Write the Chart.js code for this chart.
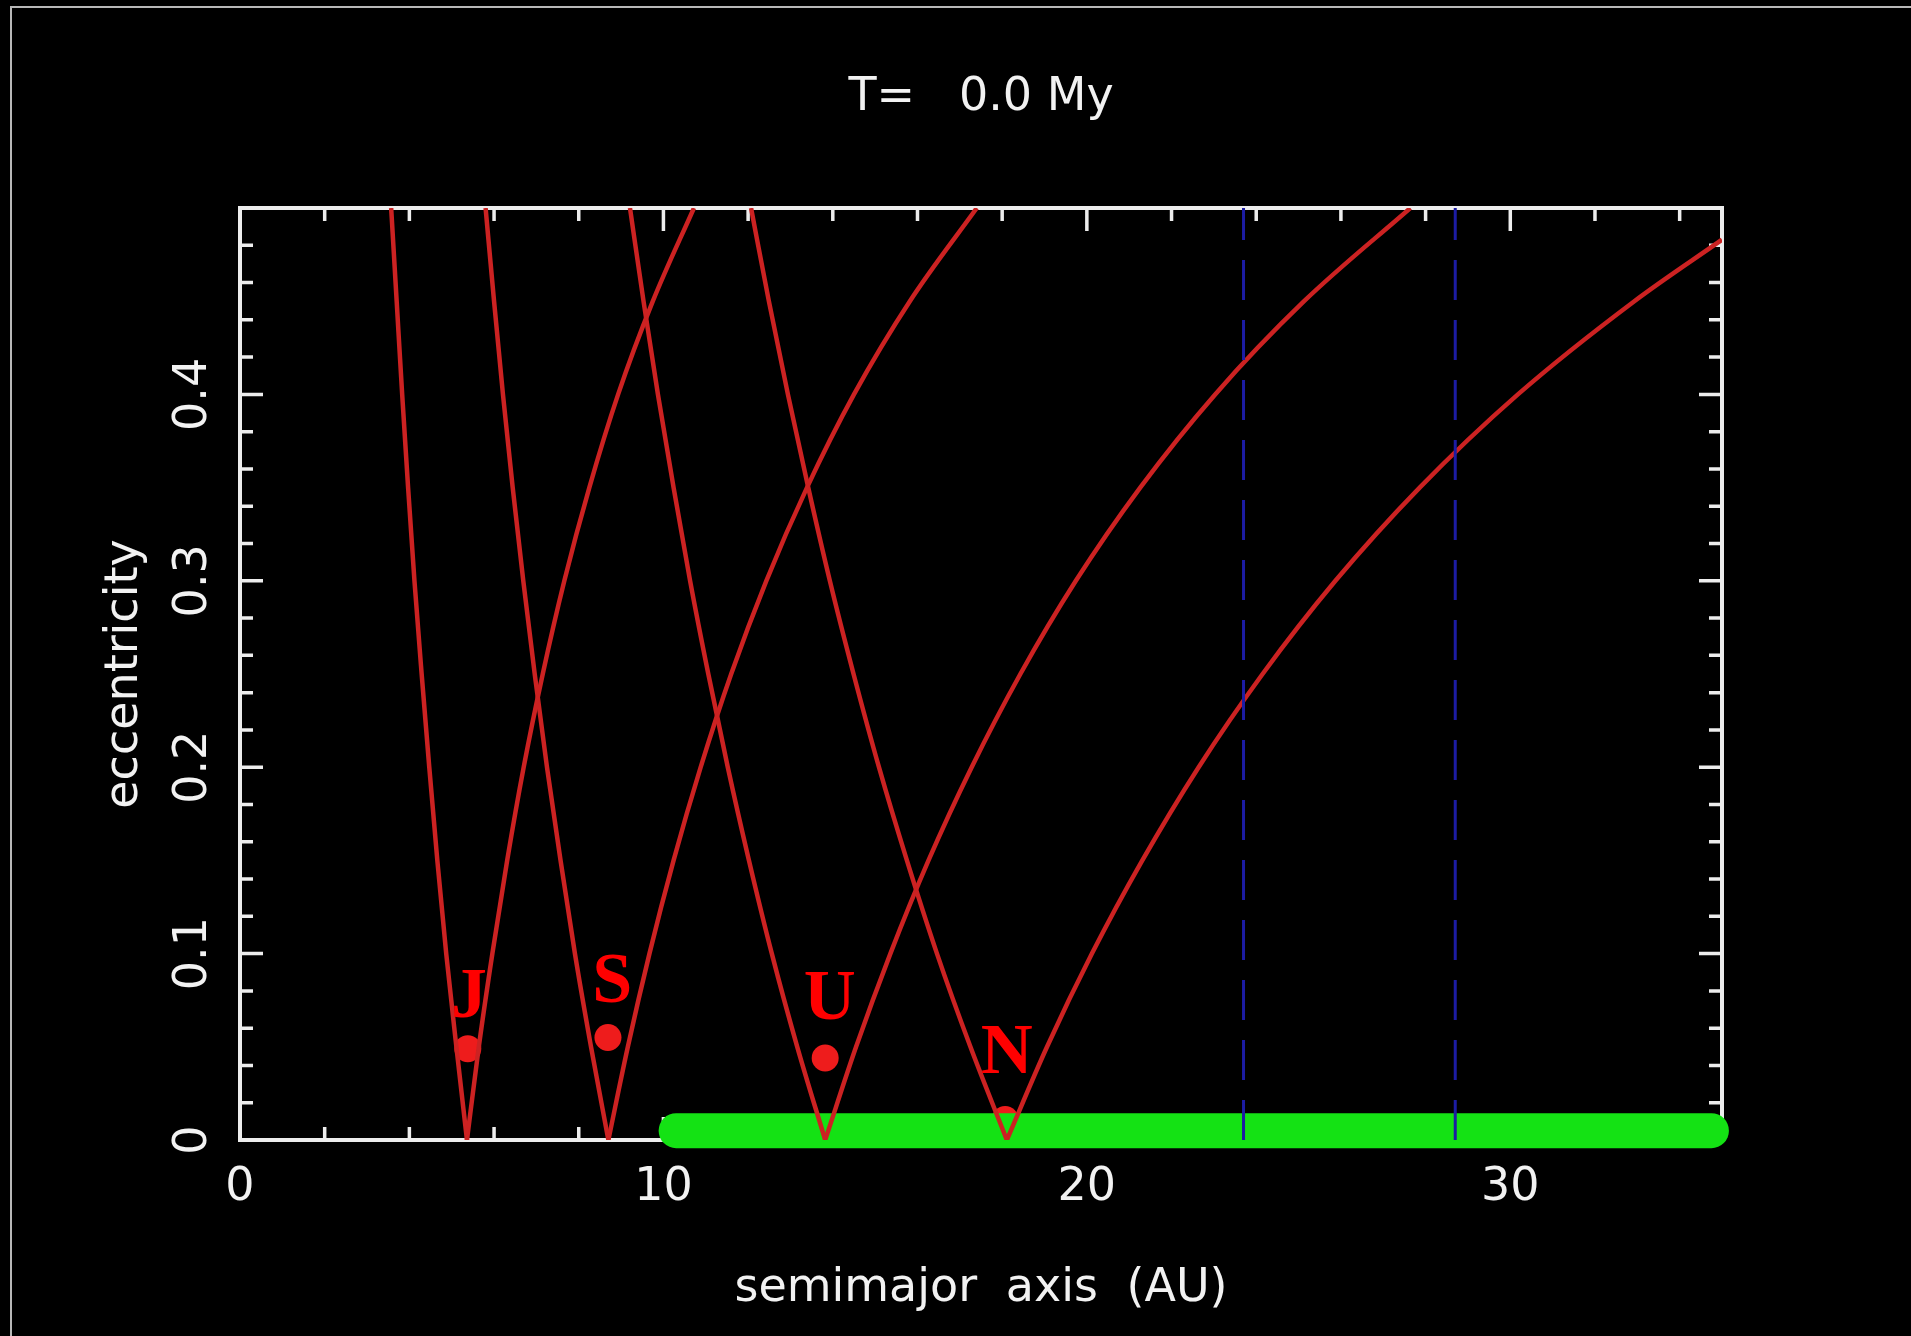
<!DOCTYPE html>
<html>
<head>
<meta charset="utf-8">
<script src="https://cdn.jsdelivr.net/npm/chart.js@4/dist/chart.umd.min.js"></script>
<style>
  html, body { margin: 0; padding: 0; background: #000; overflow: hidden; }
  canvas { display: block; }
</style>
</head>
<body>
<canvas id="ecc" width="1911" height="1336"></canvas>
<script>
// eccentricity levels along each branch
const innerEcc = [0.5, 0.45, 0.4, 0.35, 0.3, 0.25, 0.2, 0.15, 0.1, 0.05, 0];
const outerEcc = [0, 0.05, 0.1, 0.15, 0.2, 0.25, 0.3, 0.35, 0.4, 0.45, 0.5];
const neptuneOuterEcc = [0, 0.05, 0.1, 0.15, 0.2, 0.25, 0.3, 0.35, 0.4, 0.45, 0.483];

// semimajor axis (AU) of the crossing curves, left and right branch of each V
const jupiterInner = [3.57, 3.70, 3.83, 3.97, 4.12, 4.29, 4.47, 4.66, 4.87, 5.11, 5.36];
const jupiterOuter = [5.36, 5.64, 5.96, 6.31, 6.70, 7.15, 7.66, 8.25, 8.93, 9.75, 10.72];
const saturnInner = [5.80, 6.00, 6.21, 6.44, 6.69, 6.96, 7.25, 7.57, 7.91, 8.29, 8.70];
const saturnOuter = [8.70, 9.16, 9.67, 10.24, 10.88, 11.60, 12.43, 13.39, 14.50, 15.82, 17.40];
const uranusInner = [9.21, 9.53, 9.87, 10.24, 10.63, 11.06, 11.52, 12.02, 12.56, 13.16, 13.82];
const uranusOuter = [13.82, 14.55, 15.36, 16.26, 17.28, 18.43, 19.74, 21.26, 23.03, 25.13, 27.64];
const neptuneInner = [12.07, 12.49, 12.94, 13.42, 13.93, 14.49, 15.09, 15.75, 16.46, 17.25, 18.11];
const neptuneOuter = [18.11, 19.06, 20.12, 21.31, 22.64, 24.15, 25.87, 27.86, 30.18, 32.93, 35.0];

// planets
const planetNames = ["J", "S", "U", "N"];
const planetA = [5.38, 8.69, 13.82, 18.07];
const planetE = [0.049, 0.055, 0.044, 0.011];
const labelA = [5.41, 8.79, 13.93, 18.11];
const labelE = [0.066, 0.074, 0.065, 0.036];

// planetesimal disk and the two dashed markers
const diskA = [10.3, 34.75];
const diskE = [0.005, 0.005];
const markerA = [23.7, 28.7];

// axis ticks
const xMajorTicks = [0, 10, 20, 30];
const xMinorTicks = [2, 4, 6, 8, 12, 14, 16, 18, 22, 24, 26, 28, 32, 34];
const yMajorTicks = [0, 0.1, 0.2, 0.3, 0.4];
const yMinorTicks = [0.02, 0.04, 0.06, 0.08, 0.12, 0.14, 0.16, 0.18, 0.22, 0.24,
  0.26, 0.28, 0.32, 0.34, 0.36, 0.38, 0.42, 0.44, 0.46, 0.48];

const titleText = "T=   0.0 My";
const xTitle = "semimajor axis (AU)";
const yTitle = "eccentricity";

const curveColor = "#cc2222";
const textFont = '"DejaVu Sans", sans-serif';

function punten(xs, ys) {
  return xs.map((v, i) => ({ x: v, y: ys[i] }));
}

function rodeLijn(xs, ys) {
  return {
    type: "line",
    data: punten(xs, ys),
    borderColor: curveColor,
    borderWidth: 4.5,
    pointRadius: 0,
    cubicInterpolationMode: "monotone",
    order: 3,
  };
}

// frame with inward ticks on all four sides
const kader = {
  id: "kader",
  beforeDraw(chart) {
    const { ctx, width, height } = chart;
    ctx.save();
    ctx.fillStyle = "#000";
    ctx.fillRect(0, 0, width, height);
    ctx.strokeStyle = "#b8b8b8";
    ctx.lineWidth = 2;
    ctx.beginPath();
    ctx.moveTo(11, height);
    ctx.lineTo(11, 7);
    ctx.lineTo(width, 7);
    ctx.stroke();
    ctx.restore();
  },
  beforeDatasetsDraw(chart) {
    const { ctx, chartArea: a, scales } = chart;
    const x = scales.x, y = scales.y;
    ctx.save();
    ctx.strokeStyle = "#ededed";
    ctx.lineWidth = 4;
    ctx.strokeRect(a.left, a.top, a.right - a.left, a.bottom - a.top);
    ctx.lineWidth = 3.5;
    ctx.beginPath();
    const xTick = (v, len) => {
      const px = x.getPixelForValue(v);
      ctx.moveTo(px, a.bottom); ctx.lineTo(px, a.bottom - len);
      ctx.moveTo(px, a.top); ctx.lineTo(px, a.top + len);
    };
    const yTick = (v, len) => {
      const py = y.getPixelForValue(v);
      ctx.moveTo(a.left, py); ctx.lineTo(a.left + len, py);
      ctx.moveTo(a.right, py); ctx.lineTo(a.right - len, py);
    };
    xMajorTicks.forEach((v) => xTick(v, 23));
    xMinorTicks.forEach((v) => xTick(v, 13));
    yMajorTicks.forEach((v) => yTick(v, 23));
    yMinorTicks.forEach((v) => yTick(v, 13));
    ctx.stroke();
    ctx.restore();
  },
  afterDatasetsDraw(chart) {
    const { ctx, scales } = chart;
    ctx.save();
    ctx.fillStyle = "#ff0000";
    ctx.font = 'bold 72px "Liberation Serif", serif';
    ctx.textAlign = "center";
    ctx.textBaseline = "alphabetic";
    planetNames.forEach((naam, i) => {
      ctx.fillText(naam, scales.x.getPixelForValue(labelA[i]), scales.y.getPixelForValue(labelE[i]));
    });
    ctx.restore();
  },
  afterDraw(chart) {
    const { ctx, chartArea: a, scales } = chart;
    const midden = (a.left + a.right) / 2;
    ctx.save();
    ctx.fillStyle = "#f2f2f2";
    ctx.font = "46px " + textFont;
    ctx.textAlign = "center";
    ctx.textBaseline = "alphabetic";
    ctx.fillText(titleText, midden, 110);
    xMajorTicks.forEach((v) => {
      ctx.fillText(String(v), scales.x.getPixelForValue(v), 1200);
    });
    // vertical labels on the left
    yMajorTicks.forEach((v) => {
      ctx.save();
      ctx.translate(206, scales.y.getPixelForValue(v));
      ctx.rotate(-Math.PI / 2);
      ctx.fillText(v === 0 ? "0" : v.toFixed(1), 0, 0);
      ctx.restore();
    });
    ctx.save();
    ctx.translate(137, (a.top + a.bottom) / 2);
    ctx.rotate(-Math.PI / 2);
    ctx.fillText(yTitle, 0, 0);
    ctx.restore();
    ctx.wordSpacing = "14px";
    ctx.fillText(xTitle, midden, 1301);
    ctx.restore();
  },
};

const datasets = [
  ...markerA.map((m) => ({
    type: "line",
    data: punten([m, m], [0, 0.5]),
    borderColor: "#1c1ca4",
    borderWidth: 3,
    borderDash: [40, 20],
    pointRadius: 0,
    order: 2,
  })),
  rodeLijn(jupiterInner, innerEcc),
  rodeLijn(jupiterOuter, outerEcc),
  rodeLijn(saturnInner, innerEcc),
  rodeLijn(saturnOuter, outerEcc),
  rodeLijn(uranusInner, innerEcc),
  rodeLijn(uranusOuter, outerEcc),
  rodeLijn(neptuneInner, innerEcc),
  rodeLijn(neptuneOuter, neptuneOuterEcc),
  {
    type: "line",
    data: punten(diskA, diskE),
    borderColor: "#14e214",
    borderWidth: 35,
    borderCapStyle: "round",
    pointRadius: 0,
    clip: false,
    order: 4,
  },
  {
    type: "scatter",
    data: punten(planetA, planetE),
    backgroundColor: "#ee1c1c",
    borderWidth: 0,
    pointRadius: 13.5,
    order: 5,
  },
];

new Chart(document.getElementById("ecc"), {
  type: "line",
  data: { datasets },
  options: {
    responsive: false,
    animation: false,
    layout: { padding: { left: 240, right: 189, top: 208, bottom: 196 } },
    plugins: { legend: { display: false }, tooltip: { enabled: false } },
    scales: {
      x: { type: "linear", min: 0, max: 35, display: false },
      y: { type: "linear", min: 0, max: 0.5, display: false },
    },
  },
  plugins: [kader],
});
</script>
</body>
</html>
